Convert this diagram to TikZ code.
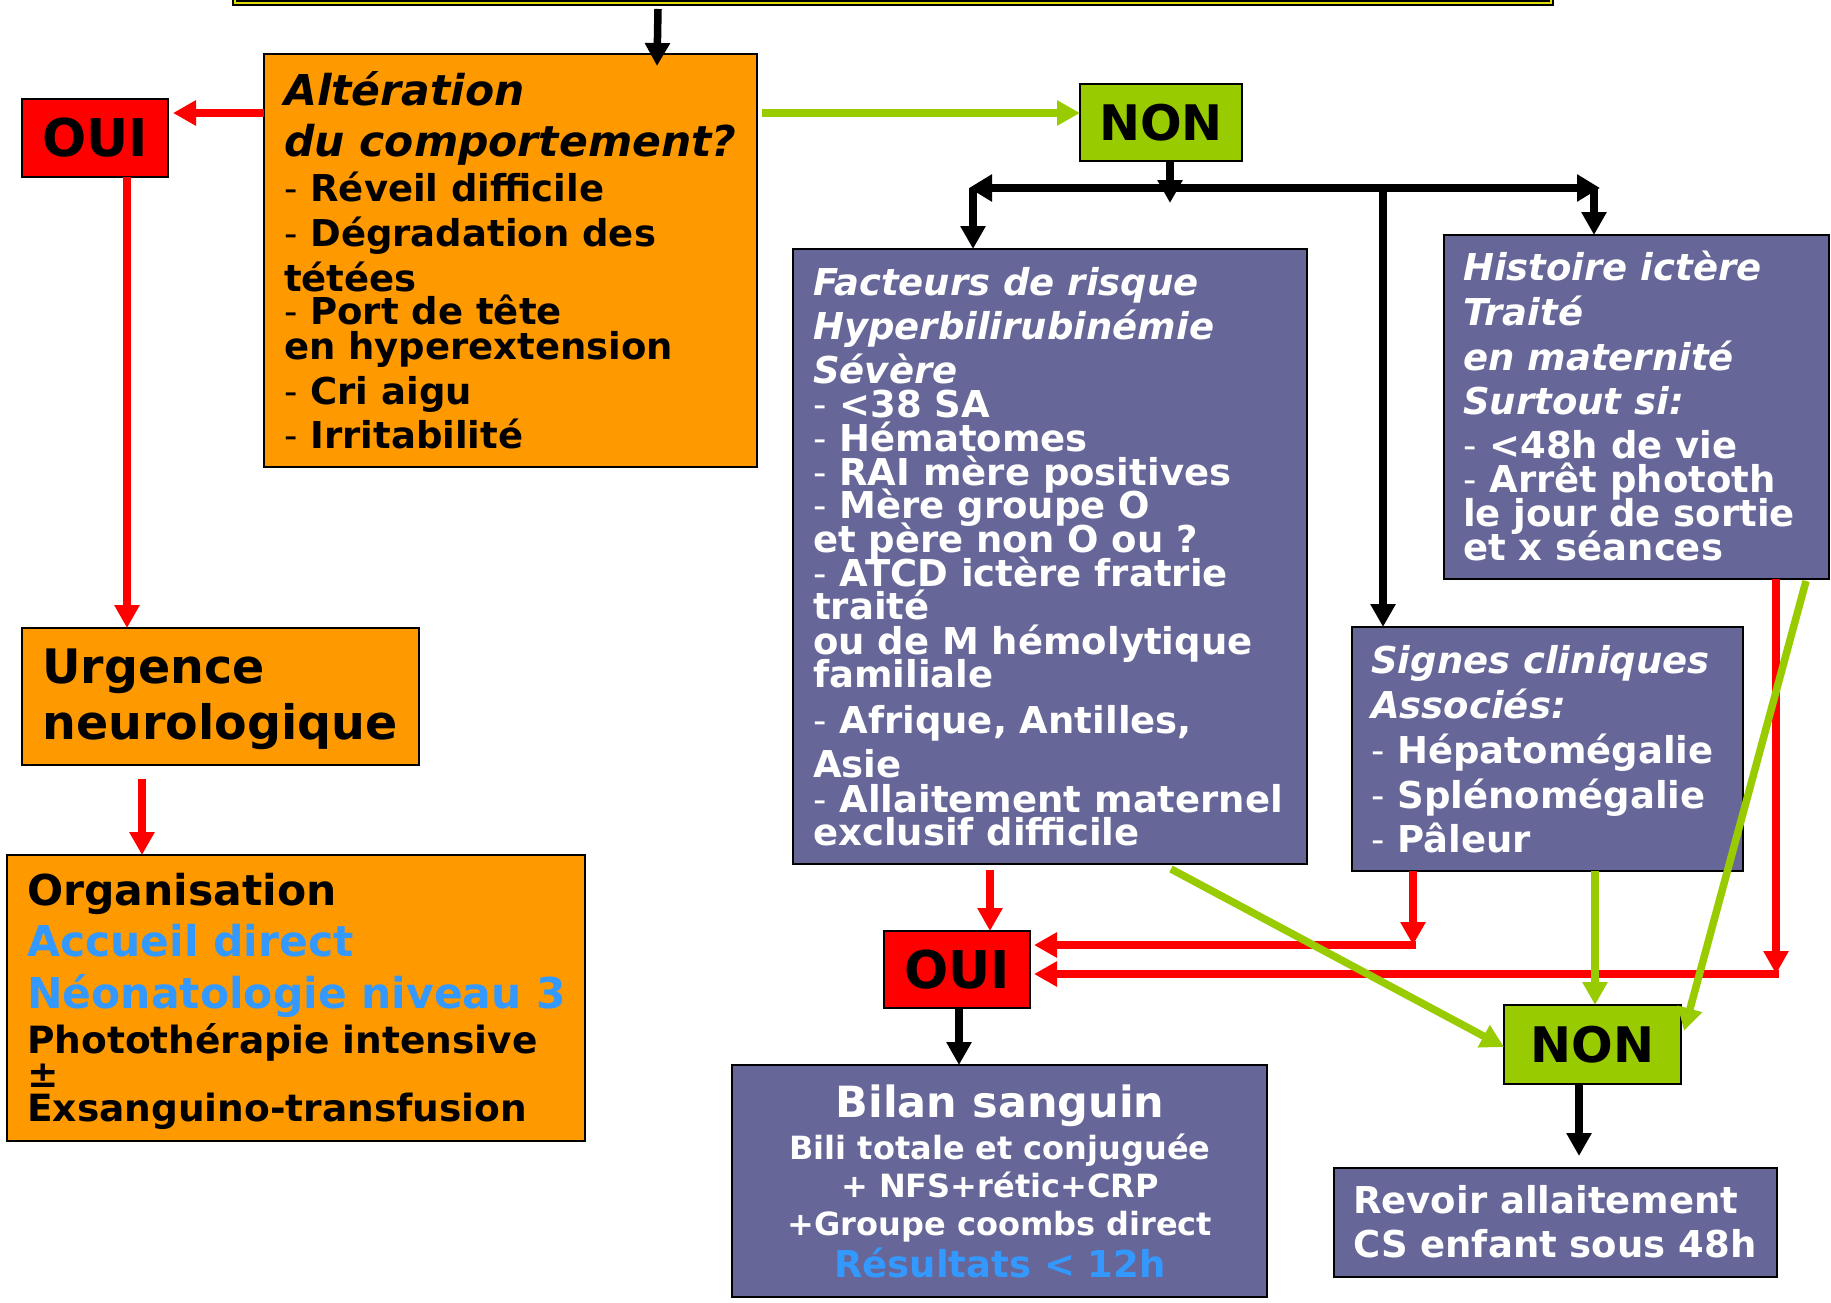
\documentclass[tikz,border=0pt]{standalone}
\usepackage{fontspec}
\setmainfont{DejaVu Sans}
\usetikzlibrary{arrows.meta}
\definecolor{orng}{HTML}{FF9900}
\definecolor{purp}{HTML}{666699}
\definecolor{grn}{HTML}{99CC00}
\definecolor{rd}{HTML}{FF0000}
\definecolor{blu}{HTML}{3399FF}
\definecolor{ylw}{HTML}{DDDD00}
\newcommand\dd{{\mdseries -}\ }
\newcommand\fs{\rule{0pt}{40pt}}
\begin{document}
\setlength{\lineskiplimit}{-100pt}
\begin{tikzpicture}[x=1pt,y=-1pt,
  box/.style={draw=black,line width=2.5pt,anchor=north west,inner sep=0pt,outer sep=0pt},
  obox/.style={box,fill=orng},
  pbox/.style={box,fill=purp},
  ouibox/.style={box,fill=rd,font=\bfseries\fontsize{52}{52}\selectfont},
  nonbox/.style={box,fill=grn,font=\bfseries\fontsize{49}{49}\selectfont},
  txt/.style={anchor=north west,inner sep=0pt,align=left,
    font=\bfseries\fontsize{37}{34}\selectfont},
  wtxt/.style={txt,text=white},
  tip/.style={-{Triangle[length=23pt,width=24pt]}},
  blkar/.style={draw=black,line width=7.5pt,tip},
  redar/.style={draw=rd,line width=7.5pt,tip},
  grnar/.style={draw=grn,line width=7.5pt,tip}
]
\useasboundingbox (0,0) rectangle (1831,1303);
\clip (0,0) rectangle (1831,1303);
\fill[white] (0,0) rectangle (1831,1303);

% boxes
\node[draw=black,double=ylw,double distance=2pt,line width=2pt,fill=white,
      anchor=south west,minimum width=1316pt,minimum height=60pt,inner sep=0pt] (topbar) at (234,4) {};
\node[obox,minimum width=493pt,minimum height=413pt] (alt) at (264,54) {};
\node[ouibox,minimum width=146pt,minimum height=78pt] (oui1) at (22,99) {OUI};
\node[nonbox,minimum width=162pt,minimum height=77pt] (non1) at (1080,84) {NON};
\node[pbox,minimum width=514pt,minimum height=615pt] (fact) at (793,249) {};
\node[pbox,minimum width=385pt,minimum height=344pt] (hist) at (1444,235) {};
\node[pbox,minimum width=391pt,minimum height=244pt] (sign) at (1352,627) {};
\node[obox,minimum width=397pt,minimum height=137pt] (urg) at (22,628) {};
\node[obox,minimum width=578pt,minimum height=286pt] (orga) at (7,855) {};
\node[ouibox,minimum width=146pt,minimum height=77pt] (oui2) at (884,931) {OUI};
\node[nonbox,minimum width=177pt,minimum height=79pt] (non2) at (1504,1005) {NON};
\node[pbox,minimum width=535pt,minimum height=232pt] (bilan) at (732,1065) {};
\node[pbox,minimum width=443pt,minimum height=109pt] (revoir) at (1334,1168) {};

% texts
\node[txt] (altT) at (284,65.6) {%
{\itshape\fontsize{42.5}{34}\selectfont\fs Altération}\\[17pt]
{\itshape\fontsize{42.5}{34}\selectfont du comportement?}\\[10.6pt]
\dd Réveil difficile\\[11.4pt]
\dd Dégradation des\\[10.5pt]
tétées\\[-1.3pt]
\dd Port de tête\\[1pt]
en hyperextension\\[11.6pt]
\dd Cri aigu\\[10.3pt]
\dd Irritabilité};

\node[wtxt] (factT) at (813,255) {%
{\itshape\fs Facteurs de risque}\\[10.4pt]
{\itshape Hyperbilirubinémie}\\[10.3pt]
{\itshape Sévère}\\
\dd <38 SA\\
\dd Hématomes\\
\dd RAI mère positives\\[-1pt]
\dd Mère groupe O\\
et père non O ou ?\\
\dd ATCD ictère fratrie\\[-1pt]
traité\\[1pt]
ou de M hémolytique\\[-1pt]
familiale\\[11.5pt]
\dd Afrique, Antilles,\\[10.4pt]
Asie\\[1pt]
\dd Allaitement maternel\\[-1pt]
exclusif difficile};

\node[wtxt] (histT) at (1463,240) {%
{\itshape\fs Histoire ictère}\\[11.5pt]
{\itshape Traité}\\[10.4pt]
{\itshape en maternité}\\[10.4pt]
{\itshape Surtout si:}\\[10.4pt]
\dd <48h de vie\\
\dd Arrêt phototh\\
le jour de sortie\\
et x séances};

\node[wtxt] (signT) at (1371,633.5) {%
{\itshape\fs Signes cliniques}\\[10.4pt]
{\itshape Associés:}\\[11.5pt]
\dd Hépatomégalie\\[10.4pt]
\dd Splénomégalie\\[10.4pt]
\dd Pâleur};

\node[txt,font=\bfseries\fontsize{47.5}{56}\selectfont] (urgT) at (42,643.3) {%
\fs Urgence\\
neurologique};

\node[txt,font=\bfseries\fontsize{42.5}{34}\selectfont] (orgaT) at (27,865.7) {%
\fs Organisation\\[16.2pt]
\textcolor{blu}{Accueil direct}\\[18.5pt]
\textcolor{blu}{Néonatologie niveau 3}\\[10.6pt]
{\fontsize{37.5}{34}\selectfont Photothérapie intensive}\\
{\fontsize{37.5}{34}\selectfont ±}\\
{\fontsize{37.5}{34}\selectfont Exsanguino-transfusion}};

\node[wtxt,anchor=north,align=center,font=\bfseries\fontsize{43}{34}\selectfont] (bilanT) at (1000,1077) {%
\fs Bilan sanguin\\[8pt]
{\fontsize{32}{34}\selectfont Bili totale et conjuguée}\\[4pt]
{\fontsize{32}{34}\selectfont + NFS+rétic+CRP}\\[4pt]
{\fontsize{32}{34}\selectfont +Groupe coombs direct}\\[8pt]
{\fontsize{37}{34}\selectfont\color{blu}Résultats < 12h}};

\node[wtxt] (revT) at (1353,1173) {%
\fs Revoir allaitement\\[10.4pt]
CS enfant sous 48h};

% branch points
\coordinate (busL) at (973,188);
\coordinate (busM) at (1383,188);
\coordinate (busR) at (1594,188);
\coordinate (cS) at (1413,945);
\coordinate (cH) at (1776,974);

% connectors
\draw[blkar] ([xshift=-235pt,yshift=-5pt]topbar.south) -- ([xshift=146.5pt,yshift=-12pt]alt.north);
\draw[redar] ([yshift=-59pt]alt.north west) -- ([xshift=5pt,yshift=25pt]oui1.east);
\draw[grnar] ([xshift=5pt,yshift=-59pt]alt.north east) -- ([yshift=9.5pt]non1.west);
\draw[redar] ([xshift=32pt]oui1.south) -- ([xshift=-93.5pt]urg.north);
\draw[blkar] ([xshift=9pt]non1.south) -- ([xshift=9pt,yshift=-42pt]non1.south);
\draw[draw=black,line width=8pt,{Triangle[length=23pt,width=26pt]}-{Triangle[length=23pt,width=26pt]}] ([xshift=-4pt]busL) -- ([xshift=6pt]busR);
\draw[blkar] (busL) -- ([xshift=-77pt]fact.north);
\draw[blkar] (busR) -- ([xshift=-42.5pt]hist.north);
\draw[blkar] (busM) -- ([xshift=-164.5pt]sign.north);
\draw[redar] ([xshift=-78.5pt,yshift=-14pt]urg.south) -- ([xshift=-154pt]orga.north);
\draw[redar] ([xshift=-60pt,yshift=-6pt]fact.south) -- ([xshift=33pt]oui2.north);
\draw[redar] ([xshift=-134.5pt]sign.south) -- (cS);
\draw[redar] ([xshift=3pt]cS) -- ([xshift=4pt,yshift=24.5pt]oui2.east);
\draw[redar] ([xshift=139.5pt]hist.south) -- (cH);
\draw[redar] ([xshift=3pt]cH) -- ([xshift=4pt,yshift=-4.5pt]oui2.east);
\draw[grnar] ([xshift=121pt,yshift=-5pt]fact.south) -- ([yshift=-2.5pt]non2.west);
\draw[grnar] ([xshift=47.5pt]sign.south) -- ([xshift=2.5pt]non2.north);
\draw[grnar] ([xshift=169.5pt,yshift=-2pt]hist.south) -- ([xshift=3pt,yshift=-26pt]non2.north east);
\draw[blkar] ([xshift=2pt]oui2.south) -- ([xshift=-40.5pt]bilan.north);
\draw[blkar] ([xshift=-13.5pt]non2.south) -- ([xshift=23.5pt,yshift=12pt]revoir.north);
\end{tikzpicture}
\end{document}
